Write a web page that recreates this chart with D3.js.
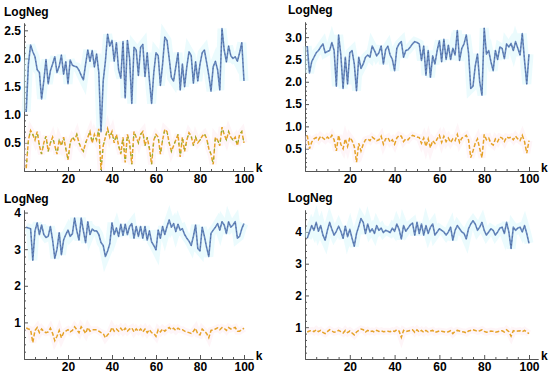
<!DOCTYPE html>
<html>
<head>
<meta charset="utf-8">
<script src="https://cdn.jsdelivr.net/npm/d3@7"></script>
<style>
body { margin: 0; background: #fff; }
svg { display: block; }
.lbl, .axis text { font-family: "Liberation Sans", Arial, sans-serif; font-weight: bold; font-size: 12px; fill: #000; }
.axis path, .axis line { stroke: #555; }
</style>
</head>
<body>
<svg width="550" height="374"></svg>
<script>
var svg = d3.select('svg');

// k = 1..100 for every series
var blue1 = [1.05,1.9,2.24,2.12,2.03,1.8,1.75,1.28,1.6,1.98,
             1.55,1.78,1.9,2.03,1.75,1.86,2.06,1.72,1.94,1.55,
             1.97,1.88,1.86,1.85,1.79,1.7,1.62,1.9,2.15,1.95,
             2.14,1.85,2.08,1.75,0.7,1.6,1.95,2.43,2.22,2.32,
             1.95,2.28,1.8,1.65,2.3,1.3,2.32,2.0,1.2,2.2,
             2.15,1.7,2.2,2.25,1.68,2.1,1.62,1.2,1.75,2.1,
             2.05,1.52,1.9,2.38,2.32,2.0,1.66,1.6,1.85,2.1,
             1.44,1.9,1.5,1.85,2.12,2.05,1.56,1.94,1.6,1.9,
             2.1,2.15,1.93,1.7,1.42,1.85,1.95,1.8,1.44,2.53,
             2.15,1.94,2.22,2.05,2.0,2.03,1.95,2.1,2.28,1.6];
var orange1 = [0.05,0.55,0.72,0.65,0.55,0.7,0.45,0.3,0.5,0.62,
               0.35,0.5,0.6,0.45,0.3,0.55,0.45,0.6,0.4,0.2,
               0.5,0.6,0.55,0.65,0.5,0.4,0.35,0.5,0.6,0.7,
               0.5,0.65,0.55,0.75,0.02,0.45,0.6,0.75,0.6,0.7,
               0.5,0.65,0.45,0.3,0.6,0.15,0.65,0.5,0.12,0.7,
               0.6,0.5,0.65,0.7,0.45,0.6,0.4,0.12,0.55,0.65,
               0.6,0.3,0.55,0.74,0.7,0.5,0.35,0.45,0.55,0.65,
               0.25,0.6,0.35,0.55,0.68,0.62,0.45,0.6,0.5,0.55,
               0.62,0.66,0.58,0.4,0.3,0.12,0.6,0.55,0.45,0.78,
               0.65,0.55,0.7,0.6,0.55,0.6,0.45,0.65,0.7,0.5];

var blue2 = [2.8,2.2,2.45,2.55,2.65,2.7,2.78,2.85,2.65,2.68,
             2.7,2.88,2.7,1.9,3.05,2.6,1.85,2.55,1.95,2.65,
             2.7,2.4,1.8,2.55,2.3,2.4,2.55,2.6,2.55,2.8,
             2.7,2.58,2.65,2.8,2.4,2.72,2.8,2.6,2.5,2.25,
             2.75,2.85,2.9,2.55,2.7,2.72,2.78,2.85,2.9,2.88,
             2.85,2.48,2.8,2.15,2.7,2.1,2.58,2.4,2.7,2.92,
             2.45,2.95,2.5,2.82,2.5,2.75,2.6,3.15,2.48,2.75,
             2.85,3.05,2.65,1.85,1.9,2.35,2.62,2.0,1.7,3.2,
             2.62,2.7,2.45,2.25,2.7,2.5,2.78,2.75,2.52,2.85,
             2.78,2.86,2.7,2.9,2.75,2.6,3.08,2.48,1.95,2.62];
var orange2 = [0.8,0.5,0.65,0.72,0.75,0.7,0.78,0.74,0.7,0.76,
               0.72,0.8,0.7,0.45,0.8,0.6,0.5,0.72,0.55,0.75,
               0.68,0.55,0.2,0.62,0.45,0.6,0.7,0.72,0.68,0.76,
               0.72,0.68,0.7,0.78,0.6,0.72,0.75,0.65,0.7,0.6,
               0.74,0.8,0.78,0.66,0.72,0.7,0.76,0.8,0.78,0.76,
               0.75,0.62,0.74,0.55,0.72,0.52,0.68,0.62,0.72,0.8,
               0.64,0.78,0.66,0.74,0.64,0.72,0.68,0.82,0.64,0.74,
               0.76,0.8,0.7,0.3,0.45,0.62,0.72,0.5,0.3,0.82,
               0.7,0.74,0.62,0.58,0.72,0.66,0.76,0.74,0.66,0.76,
               0.74,0.76,0.7,0.78,0.72,0.68,0.8,0.66,0.4,0.68];

var blue3 = [3.6,3.58,3.56,2.7,3.5,3.72,3.4,3.66,3.4,3.32,
             3.35,3.62,3.25,2.75,3.0,3.45,2.85,3.25,3.4,3.52,
             3.35,3.42,3.85,3.5,3.25,3.85,3.5,3.18,3.75,3.4,
             3.55,3.5,3.5,3.4,3.18,3.1,2.8,2.95,3.15,3.72,
             3.4,3.58,3.35,3.68,3.38,3.68,3.4,3.62,3.7,3.3,
             3.62,3.35,3.62,3.3,3.62,3.25,3.5,3.2,3.1,2.98,
             3.52,3.3,3.62,3.4,3.62,3.8,3.6,3.7,3.48,3.68,
             3.52,3.56,3.4,3.3,3.22,3.1,3.35,3.66,3.02,2.95,
             3.6,3.35,3.05,2.8,3.43,3.52,3.6,3.7,3.52,3.75,
             3.66,3.43,3.75,3.6,3.66,3.75,3.3,3.35,3.56,3.7];
var orange3 = [0.85,0.82,0.8,0.45,0.78,0.86,0.72,0.82,0.75,0.72,
               0.74,0.84,0.7,0.5,0.62,0.78,0.58,0.72,0.76,0.8,
               0.74,0.78,0.88,0.8,0.72,0.88,0.8,0.7,0.86,0.76,
               0.8,0.8,0.8,0.76,0.72,0.7,0.58,0.66,0.72,0.86,
               0.76,0.82,0.76,0.84,0.76,0.84,0.76,0.82,0.85,0.74,
               0.82,0.76,0.82,0.74,0.82,0.72,0.8,0.72,0.7,0.62,
               0.8,0.74,0.82,0.76,0.82,0.86,0.8,0.84,0.78,0.84,
               0.8,0.8,0.76,0.74,0.72,0.7,0.76,0.84,0.68,0.66,
               0.82,0.76,0.7,0.58,0.78,0.8,0.82,0.85,0.8,0.86,
               0.84,0.78,0.86,0.82,0.84,0.86,0.76,0.76,0.8,0.84];

var blue4 = [3.8,4.0,4.2,4.05,4.3,4.02,4.2,3.9,3.74,4.05,
             4.3,4.08,3.9,4.02,4.18,4.02,3.8,4.18,3.85,4.08,
             3.8,3.55,3.95,4.18,4.42,4.3,3.95,4.25,4.0,4.1,
             3.95,4.2,4.05,4.12,3.98,4.05,4.02,3.98,4.12,4.02,
             4.25,4.08,3.78,4.2,4.02,4.12,4.22,4.28,3.9,4.3,
             3.95,4.25,3.9,4.2,3.95,4.15,4.25,3.9,4.0,4.1,
             4.05,4.0,3.9,4.0,4.15,3.74,4.05,4.2,4.1,4.0,
             3.95,3.78,4.1,4.25,4.35,4.25,4.05,4.15,4.3,4.05,
             3.9,4.0,4.1,4.05,3.9,4.0,4.12,4.15,3.95,4.3,
             4.0,3.48,4.15,4.05,4.12,4.15,4.0,4.2,3.95,3.64];
var orange4 = [0.85,0.88,0.9,0.86,0.92,0.86,0.9,0.84,0.8,0.86,
               0.92,0.88,0.84,0.86,0.9,0.86,0.82,0.9,0.83,0.88,
               0.82,0.76,0.85,0.9,0.94,0.92,0.85,0.9,0.86,0.88,
               0.85,0.9,0.87,0.89,0.86,0.87,0.87,0.86,0.89,0.87,
               0.92,0.88,0.68,0.9,0.86,0.88,0.9,0.92,0.84,0.92,
               0.85,0.9,0.84,0.9,0.85,0.88,0.9,0.84,0.86,0.88,
               0.87,0.86,0.84,0.86,0.89,0.8,0.87,0.9,0.88,0.86,
               0.85,0.82,0.88,0.9,0.92,0.9,0.87,0.89,0.92,0.87,
               0.84,0.86,0.88,0.87,0.84,0.86,0.88,0.89,0.85,0.92,
               0.86,0.72,0.89,0.87,0.88,0.89,0.86,0.9,0.85,0.8];

var xTicks = [20, 40, 60, 80, 100];
var yTicks1 = [0.5, 1, 1.5, 2, 2.5];
var yTicks2 = [0.5, 1, 1.5, 2, 2.5, 3];
var yTicks3 = [1, 2, 3, 4];
var yTicks4 = [1, 2, 3, 4];

var panels = [
    {blue: blue1, orange: orange1, yTicks: yTicks1, fmt: '.1f', minorStep: 0.1,
     left: 24, step: 2.2, base: 171, top: 23, ymax: 2.63, titleX: 4, titleY: 16, green: true},
    {blue: blue2, orange: orange2, yTicks: yTicks2, fmt: '.1f', minorStep: 0.1,
     left: 305, step: 2.24, base: 171, top: 22, ymax: 3.34, titleX: 288, titleY: 14},
    {blue: blue3, orange: orange3, yTicks: yTicks3, fmt: 'd', minorStep: 0.2,
     left: 24, step: 2.2, base: 359, top: 210, ymax: 4.07, titleX: 4, titleY: 203},
    {blue: blue4, orange: orange4, yTicks: yTicks4, fmt: 'd', minorStep: 0.2,
     left: 305, step: 2.24, base: 359, top: 210, ymax: 4.69, titleX: 288, titleY: 202}
];

panels.forEach(function(p) {
    var kMax = 104;
    var x = d3.scaleLinear().domain([0, kMax]).range([p.left, p.left + p.step * kMax]);
    var y = d3.scaleLinear().domain([0, p.ymax]).range([p.base, p.top]);

    var g = svg.append('g');

    // minor ticks
    var xMinor = d3.range(5, kMax, 5).filter(v => v % 20 !== 0);
    var yMinor = d3.range(p.minorStep, p.ymax, p.minorStep)
        .filter(v => !p.yTicks.some(t => Math.abs(t - v) < 1e-6));

    g.append('g').attr('class', 'axis').attr('transform', 'translate(0,' + p.base + ')')
        .call(d3.axisBottom(x).tickValues(xMinor).tickFormat('').tickSizeInner(-2).tickSizeOuter(0));
    g.append('g').attr('class', 'axis').attr('transform', 'translate(' + p.left + ',0)')
        .call(d3.axisLeft(y).tickValues(yMinor).tickFormat('').tickSizeInner(-2).tickSizeOuter(0));

    // major axes
    g.append('g').attr('class', 'axis').attr('transform', 'translate(0,' + p.base + ')')
        .call(d3.axisBottom(x).tickValues(xTicks).tickSizeInner(-4).tickSizeOuter(0).tickPadding(3));
    g.append('g').attr('class', 'axis').attr('transform', 'translate(' + p.left + ',0)')
        .call(d3.axisLeft(y).tickValues(p.yTicks).tickFormat(d3.format(p.fmt))
            .tickSizeInner(-4).tickSizeOuter(0).tickPadding(3));

    var line = d3.line().x((d, i) => x(i + 1)).y(d => y(d));

    // soft halo behind the curves
    g.append('path').datum(p.blue).attr('d', line).attr('fill', 'none')
        .attr('stroke', '#d3f6fb').attr('stroke-opacity', 0.45).attr('stroke-width', 9);
    g.append('path').datum(p.orange).attr('d', line).attr('fill', 'none')
        .attr('stroke', '#fce6ee').attr('stroke-opacity', 0.4).attr('stroke-width', 7);

    // blue solid with dark dashed overlay
    g.append('path').datum(p.blue).attr('d', line).attr('fill', 'none')
        .attr('stroke', '#6a8cc0').attr('stroke-width', 1.6).attr('stroke-linejoin', 'round');
    g.append('path').datum(p.blue).attr('d', line).attr('fill', 'none')
        .attr('stroke', '#3c4f84').attr('stroke-opacity', 0.65).attr('stroke-width', 0.8)
        .attr('stroke-dasharray', '1.5,2.5');

    // orange dashed
    g.append('path').datum(p.orange).attr('d', line).attr('fill', 'none')
        .attr('stroke', '#E5A329').attr('stroke-width', 1.5).attr('stroke-dasharray', '4,2');
    if (p.green) {
        g.append('path').datum(p.orange).attr('d', line).attr('fill', 'none')
            .attr('stroke', '#8FB032').attr('stroke-width', 1.1)
            .attr('stroke-dasharray', '2,7').attr('stroke-dashoffset', 3);
    }

    g.append('text').attr('class', 'lbl').attr('x', p.titleX).attr('y', p.titleY).text('LogNeg');
    g.append('text').attr('class', 'lbl').attr('x', x(kMax) + 3).attr('y', p.base + 1).text('k');
});
</script>
</body>
</html>
